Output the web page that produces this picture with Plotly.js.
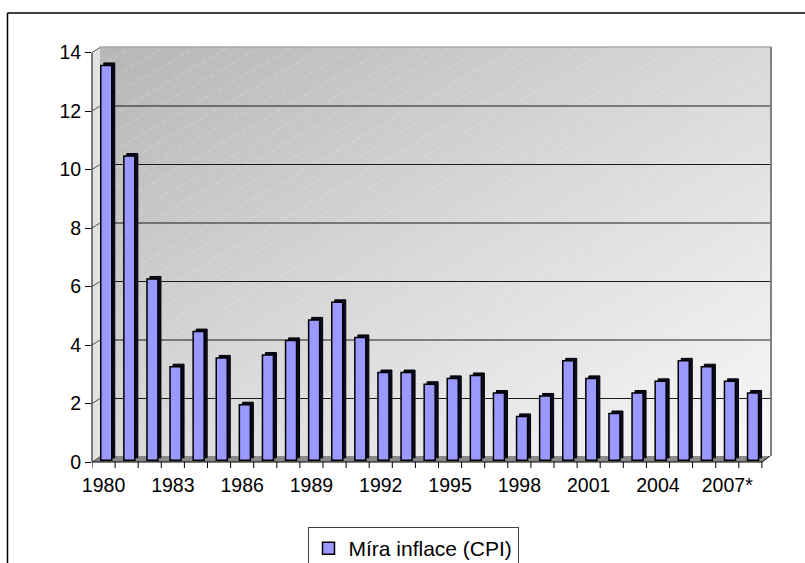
<!DOCTYPE html>
<html>
<head>
<meta charset="utf-8">
<script src="https://cdn.plot.ly/plotly-3.0.1.min.js"></script>
<style>html,body{margin:0;padding:0;background:#fff;}#chart{width:805px;height:563px;}</style>
</head>
<body>
<div id="chart"></div>
<script>
// ---- data ----
const categories = ["1980","1981","1982","1983","1984","1985","1986","1987","1988","1989",
  "1990","1991","1992","1993","1994","1995","1996","1997","1998","1999",
  "2000","2001","2002","2003","2004","2005","2006","2007*","2008*"];
const inflation = [13.5,10.4,6.2,3.2,4.4,3.5,1.9,3.6,4.1,4.8,
  5.4,4.2,3.0,3.0,2.6,2.8,2.9,2.3,1.5,2.2,
  3.4,2.8,1.6,2.3,2.7,3.4,3.2,2.7,2.3];
const tickLabels = ["1980","1983","1986","1989","1992","1995","1998","2001","2004","2007*"];
const yTicks = [0,2,4,6,8,10,12,14];
const seriesName = "Míra inflace (CPI)";

// ---- geometry ----
const W = 805, H = 563, L = 92, R = 35, T = 42, B = 101;
const pw = W - L - R, ph = H - T - B;
const pxPerUnit = 29.25, pxPerCat = 23.1;
const px = v => (v - L) / pw;          // pixel x -> paper
const py = v => (H - B - v) / ph;      // pixel y -> paper
const yUnits = p => p / pxPerUnit;     // pixel length -> y units
const depthY = 5;

const frontBase = yUnits(1.7);
const barW = 11 / pxPerCat;
const frontOffset = -barW / 2 + 2.7 / pxPerCat;

// wall gradient image
const wallW = 670, wallH = 409;
const svg = `<svg xmlns="http://www.w3.org/2000/svg" width="${wallW}" height="${wallH}" viewBox="0 0 ${wallW} ${wallH}" preserveAspectRatio="none">
<defs>
<linearGradient id="g" x1="0" y1="0" x2="1" y2="1">
<stop offset="0" stop-color="#b6b6b6"/>
<stop offset="0.5" stop-color="#d9d9d9"/>
<stop offset="1" stop-color="#f8f8f8"/>
</linearGradient>
<pattern id="p" width="16" height="16" patternUnits="userSpaceOnUse" patternTransform="rotate(-30)">
<line x1="0" y1="0.5" x2="16" y2="0.5" stroke="#ffffff" stroke-opacity="0.22" stroke-width="1" stroke-dasharray="5,3"/>
</pattern>
</defs>
<rect width="${wallW}" height="${wallH}" fill="url(#g)"/>
<rect width="${wallW}" height="${wallH}" fill="url(#p)"/>
</svg>`;
const wallSrc = "data:image/svg+xml;charset=utf-8," + encodeURIComponent(svg);

const shapes = [];
// side wall
shapes.push({type:"path", xref:"paper", yref:"paper", layer:"below",
  path:`M ${px(92)},${py(462)} L ${px(92)},${py(52.5)} L ${px(100)},${py(47)} L ${px(100)},${py(456)} Z`,
  fillcolor:"#e2e2e2", line:{width:0}});
// floor
shapes.push({type:"path", xref:"paper", yref:"paper", layer:"below",
  path:`M ${px(92)},${py(462)} L ${px(762)},${py(462)} L ${px(770)},${py(456)} L ${px(100)},${py(456)} Z`,
  fillcolor:"#8a8a8a", line:{width:0}});
// gridlines on back wall
yTicks.filter(v => v > 0 && v < 14).forEach(v => {
  shapes.push({type:"line", xref:"paper", yref:"y", layer:"below",
    x0:px(100), x1:px(770), y0:v + yUnits(depthY), y1:v + yUnits(depthY),
    line:{color:"#1a1a1a", width:1}});
});
// depth lines on side wall
yTicks.forEach(v => {
  shapes.push({type:"line", xref:"paper", yref:"y", layer:"below",
    x0:0, x1:px(100), y0:v, y1:v + yUnits(depthY),
    line:{color:"#555555", width:1}});
});
// wall outline
shapes.push({type:"line", xref:"paper", yref:"paper", layer:"below",
  x0:px(100), x1:px(771), y0:py(47), y1:py(47), line:{color:"#a8a8a8", width:1.5}});
shapes.push({type:"line", xref:"paper", yref:"paper", layer:"below",
  x0:px(771), x1:px(771), y0:py(47), y1:py(456), line:{color:"#808080", width:2}});
// y axis line
shapes.push({type:"line", xref:"paper", yref:"paper",
  x0:px(92), x1:px(92), y0:py(462), y1:py(52.5), line:{color:"#000", width:1}});
// x axis line
shapes.push({type:"path", xref:"paper", yref:"paper",
  path:`M ${px(92)},${py(462)} L ${px(762)},${py(462)} L ${px(770)},${py(456)}`,
  line:{color:"#000", width:1}});
// x tick marks at category boundaries
for (let i = 0; i <= categories.length; i++) {
  shapes.push({type:"line", xref:"x", yref:"paper",
    x0:i - 0.5, x1:i - 0.5, y0:py(462), y1:py(468), line:{color:"#000", width:1}});
}
// outer frame
shapes.push({type:"line", xref:"paper", yref:"paper",
  x0:px(7.5), x1:px(806), y0:py(13), y1:py(13), line:{color:"#000", width:1.5}});
shapes.push({type:"line", xref:"paper", yref:"paper",
  x0:px(7.5), x1:px(7.5), y0:py(13), y1:py(565), line:{color:"#000", width:1.5}});

const sideBars = {
  type:"bar", x:categories, y:inflation,
  base: frontBase + yUnits(2.5), width: barW, offset: frontOffset + 3 / pxPerCat,
  marker:{color:"#0b0b22", line:{color:"#000", width:1}},
  showlegend:false, hoverinfo:"skip"
};
const frontBars = {
  type:"bar", x:categories, y:inflation, name:seriesName,
  base: frontBase, width: barW, offset: frontOffset,
  marker:{color:"#9999FF", line:{color:"#000", width:1.5}}
};

const layout = {
  width:W, height:H,
  margin:{l:L, r:R, t:T, b:B, autoexpand:false},
  paper_bgcolor:"#ffffff", plot_bgcolor:"rgba(0,0,0,0)",
  font:{family:"Liberation Sans, Arial, sans-serif", size:19.5, color:"#000"},
  barmode:"overlay",
  xaxis:{type:"category", categoryorder:"array", categoryarray:categories,
    range:[-0.5, -0.5 + pw / pxPerCat],
    tickmode:"array", tickvals:tickLabels, ticktext:tickLabels,
    ticks:"outside", ticklen:6, tickcolor:"rgba(0,0,0,0)",
    showgrid:false, showline:false, zeroline:false,
    tickfont:{size:19.5, color:"#000"}},
  yaxis:{range:[0, ph / pxPerUnit], tickmode:"array", tickvals:yTicks,
    ticks:"outside", ticklen:6, tickcolor:"#000",
    showgrid:false, showline:false, zeroline:false,
    tickfont:{size:19.5, color:"#000"}},
  showlegend:true,
  legend:{orientation:"h", x:px(413), xanchor:"center", y:py(527), yanchor:"top",
    bordercolor:"#404040", borderwidth:1, bgcolor:"#ffffff",
    font:{size:21, color:"#000"}},
  images:[{source:wallSrc, xref:"paper", yref:"paper",
    x:px(100), y:py(47), sizex:wallW / pw, sizey:wallH / ph,
    xanchor:"left", yanchor:"top", sizing:"stretch", layer:"below"}],
  shapes:shapes
};

Plotly.newPlot("chart", [sideBars, frontBars], layout, {displayModeBar:false, staticPlot:true});
</script>
</body>
</html>
